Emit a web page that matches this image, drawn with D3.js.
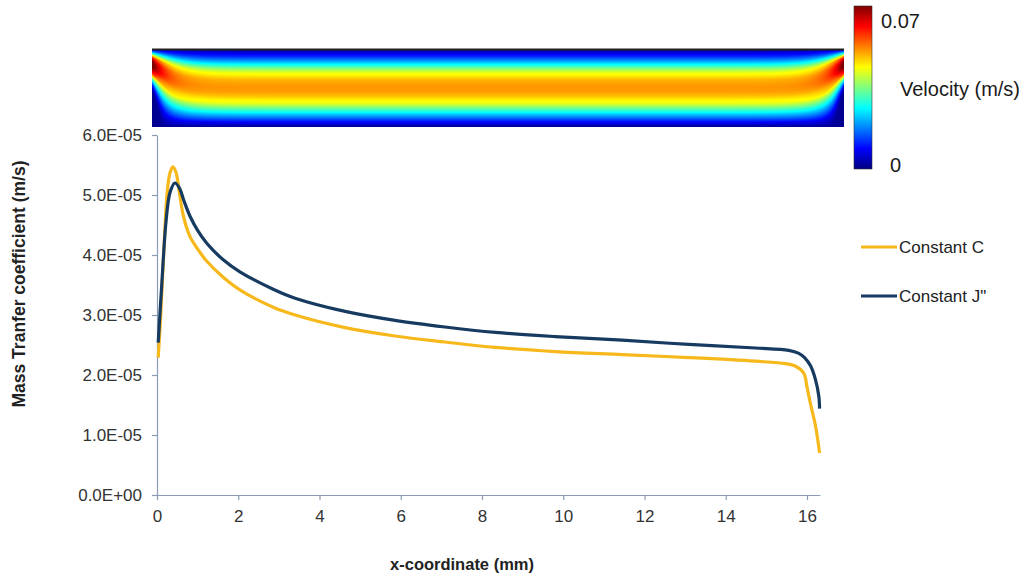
<!DOCTYPE html>
<html>
<head>
<meta charset="utf-8">
<script src="https://cdn.jsdelivr.net/npm/d3@7"></script>
<style>
  body { margin: 0; background: #fff; }
  text { font-family: "Liberation Sans", Arial, sans-serif; }
</style>
</head>
<body>
<script>
// x in mm, values in units of 1e-5 m/s
var xConstC = [0.03, 0.09, 0.17, 0.25, 0.32, 0.39, 0.47, 0.55, 0.65, 0.81, 1.0, 1.22, 1.63, 2.04, 2.86, 3.4, 4.63, 5.86, 7.09, 8.33, 9.8, 11.45, 13.09, 14.73, 15.47, 15.71, 15.92, 16.0, 16.08, 16.21, 16.31];
var yConstC = [2.29, 2.98, 4.09, 5.04, 5.37, 5.47, 5.37, 5.04, 4.65, 4.31, 4.10, 3.90, 3.63, 3.42, 3.13, 3.00, 2.79, 2.65, 2.55, 2.46, 2.39, 2.34, 2.29, 2.23, 2.19, 2.15, 2.03, 1.80, 1.54, 1.15, 0.70];

var xConstJ = [0.03, 0.12, 0.22, 0.32, 0.44, 0.55, 0.65, 0.81, 1.0, 1.22, 1.63, 2.04, 2.86, 3.4, 4.63, 5.86, 7.09, 8.33, 9.8, 11.45, 13.09, 14.73, 15.55, 15.8, 15.94, 16.09, 16.21, 16.29, 16.31];
var yConstJ = [2.54, 3.54, 4.54, 5.04, 5.20, 5.12, 4.93, 4.65, 4.41, 4.2, 3.92, 3.72, 3.43, 3.28, 3.06, 2.91, 2.80, 2.71, 2.64, 2.58, 2.51, 2.45, 2.41, 2.36, 2.29, 2.15, 1.92, 1.65, 1.44];

var xTicks = [0, 2, 4, 6, 8, 10, 12, 14, 16];
var yTicks = [0, 1, 2, 3, 4, 5, 6];
var yTickLabels = ["0.0E+00", "1.0E-05", "2.0E-05", "3.0E-05", "4.0E-05", "5.0E-05", "6.0E-05"];

var seriesNames = ["Constant C", "Constant J\""];
var seriesColors = ["#f6b81a", "#173a61"];

// cross-channel velocity profile (top -> bottom), as fraction of 0.07 m/s
var profilePos = [0, .05, .1, .15, .2, .25, .3, .35, .4, .45, .5, .55, .6, .65, .7, .75, .8, .85, .9, .95, 1];
var profileVel = [0.0, 0.1, 0.17, 0.27, 0.38, 0.5, 0.6, 0.65, 0.7, 0.72, 0.73, 0.72, 0.69, 0.64, 0.6, 0.5, 0.4, 0.3, 0.2, 0.1, 0.02];

var colorbarLabels = ["0.07", "0"];

var svg = d3.select("body").append("svg")
    .attr("width", 1032)
    .attr("height", 575);

var x = d3.scaleLinear().domain([0, 16.32]).range([157, 820]);
var y = d3.scaleLinear().domain([0, 6]).range([495, 135]);

var jet = d3.scaleLinear()
    .domain([0, .125, .375, .625, .875, 1])
    .range(["#00007f", "#0000ff", "#00ffff", "#ffff00", "#ff0000", "#7f0000"])
    .clamp(true);

// velocity field picture
function drawField() {
  var W = 692, H = 78;
  var canvas = document.createElement("canvas");
  canvas.width = W; canvas.height = H;
  var ctx = canvas.getContext("2d");
  var img = ctx.createImageData(W, H);
  var prof = d3.scaleLinear().domain(profilePos).range(profileVel).clamp(true);
  for (var j = 0; j < H; j++) {
    var t = (j + 0.5) / H;
    for (var i = 0; i < W; i++) {
      var d = Math.min(i + 0.5, W - i - 0.5);
      var e = Math.exp(-d / 16);
      // flow turns near the end walls: core shifted up and sped up
      var v = prof(t + 1.875 * e * t * (1 - t)) * (1 + 0.45 * Math.exp(-d / 12));
      var s = Math.max(0, Math.min(1, (t - 0.35) / 0.25));
      v = v * (1 - 0.7 * Math.exp(-d / 4) * s);
      var c = d3.rgb(jet(v));
      var k = (j * W + i) * 4;
      img.data[k] = c.r; img.data[k + 1] = c.g; img.data[k + 2] = c.b; img.data[k + 3] = 255;
    }
  }
  ctx.putImageData(img, 0, 0);
  svg.append("image")
      .attr("x", 152).attr("y", 49)
      .attr("width", W).attr("height", H)
      .attr("preserveAspectRatio", "none")
      .attr("href", canvas.toDataURL());
  svg.append("line")
      .attr("x1", 152).attr("x2", 844)
      .attr("y1", 49.5).attr("y2", 49.5)
      .attr("stroke", "#222").attr("stroke-width", 2);
}
drawField();

// colorbar
var grad = svg.append("defs").append("linearGradient")
    .attr("id", "jetgrad")
    .attr("x1", 0).attr("y1", 1).attr("x2", 0).attr("y2", 0);
jet.domain().forEach(function(p) {
  grad.append("stop").attr("offset", p).attr("stop-color", jet(p));
});
svg.append("rect")
    .attr("x", 854).attr("y", 6)
    .attr("width", 18).attr("height", 163)
    .attr("fill", "url(#jetgrad)")
    .attr("stroke", "#333").attr("stroke-width", 0.6);

svg.append("text").attr("x", 881).attr("y", 28)
    .attr("font-size", 20).attr("fill", "#1a1a1a").text(colorbarLabels[0]);
svg.append("text").attr("x", 890).attr("y", 172)
    .attr("font-size", 20).attr("fill", "#1a1a1a").text(colorbarLabels[1]);
svg.append("text").attr("x", 900).attr("y", 96)
    .attr("font-size", 20).attr("fill", "#1a1a1a").text("Velocity (m/s)");

// axes
var axisColor = "#8a9bb3";

var xAxis = svg.append("g")
    .attr("transform", "translate(0,495)")
    .call(d3.axisBottom(x).tickValues(xTicks).tickSize(5).tickPadding(10).tickSizeOuter(0));
var yAxis = svg.append("g")
    .attr("transform", "translate(157,0)")
    .call(d3.axisLeft(y).tickValues(yTicks).tickSize(5).tickPadding(10).tickSizeOuter(0)
      .tickFormat(function(d, i) { return yTickLabels[i]; }));

[xAxis, yAxis].forEach(function(g) {
  g.select(".domain").attr("stroke", axisColor).attr("stroke-width", 1.2);
  g.selectAll(".tick line").attr("stroke", axisColor).attr("stroke-width", 1.2);
  g.selectAll(".tick text")
      .attr("font-size", 17)
      .attr("font-family", "Liberation Sans, Arial, sans-serif")
      .attr("fill", "#333");
});

svg.append("text")
    .attr("x", 462).attr("y", 570)
    .attr("text-anchor", "middle")
    .attr("font-size", 16.5).attr("font-weight", "bold").attr("fill", "#222")
    .text("x-coordinate (mm)");

svg.append("text")
    .attr("transform", "translate(25,284) rotate(-90)")
    .attr("text-anchor", "middle")
    .attr("font-size", 17.5).attr("font-weight", "bold").attr("fill", "#222")
    .text("Mass Tranfer coefficient (m/s)");

// curves
var line = d3.line()
    .x(function(d) { return x(d[0]); })
    .y(function(d) { return y(d[1]); })
    .curve(d3.curveCatmullRom.alpha(0.5));

var series = [d3.zip(xConstC, yConstC), d3.zip(xConstJ, yConstJ)];
series.forEach(function(s, i) {
  svg.append("path")
      .attr("d", line(s))
      .attr("fill", "none")
      .attr("stroke", seriesColors[i])
      .attr("stroke-width", 3.2)
      .attr("stroke-linejoin", "round");
});

// legend
var legendY = [247, 296];
seriesNames.forEach(function(name, i) {
  svg.append("line")
      .attr("x1", 861).attr("x2", 897)
      .attr("y1", legendY[i]).attr("y2", legendY[i])
      .attr("stroke", seriesColors[i]).attr("stroke-width", 3.2);
  svg.append("text")
      .attr("x", 899).attr("y", legendY[i] + 6)
      .attr("font-size", 17).attr("fill", "#222")
      .text(name);
});
</script>
</body>
</html>
